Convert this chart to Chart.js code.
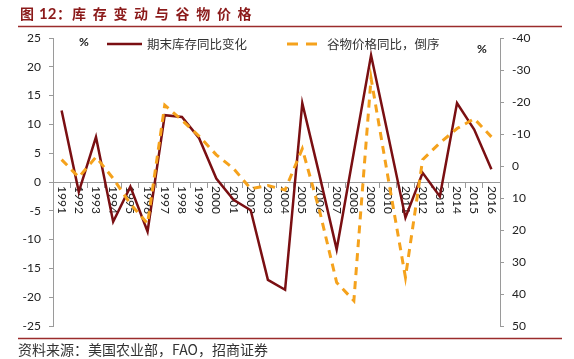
<!DOCTYPE html>
<html>
<head>
<meta charset="utf-8">
<script src="https://cdn.jsdelivr.net/npm/chart.js@4"></script>
<style>
  html, body { margin: 0; padding: 0; background: #fff; }
  canvas { display: block; }
</style>
</head>
<body>
<canvas id="chart" width="574" height="359"></canvas>
<script>
// data
const years = ['1991', '1992', '1993', '1994', '1995', '1996', '1997', '1998', '1999', '2000', '2001', '2002', '2003',
               '2004', '2005', '2006', '2007', '2008', '2009', '2010', '2011', '2012', '2013', '2014', '2015', '2016'];
const stockChange = [12.4, -1.7, 7.8, -6.9, -0.8, -8.6, 11.6, 11.3, 7.6, 0.6, -3.1, -4.9, -17.0,
                     -18.7, 13.7, 1.2, -11.7, 5.2, 22.0, 8.0, -6.2, 1.6, -2.5, 13.7, 9.1, 2.2];
const grainPrice = [-2.0, 3.5, -2.8, 3.9, 11.8, 18.0, -19.0, -14.3, -9.3, -3.5, 0.8, 7.1, 6.1,
                    7.5, -5.4, 13.9, 36.4, 42.1, -27.4, 4.0, 34.8, -2.0, -7.2, -11.7, -14.8, -9.1];
const leftTicks = { min: -25, max: 25, step: 5 };
const rightTicks = { min: -40, max: 50, step: 10 };

const titleText = ['图', ' 12：', '库存变动与谷物价格'];
const legendLabels = ['期末库存同比变化', '谷物价格同比，倒序'];
const sourceText = '资料来源：美国农业部，FAO，招商证券';

const RED = '#7a0f12';
const ORANGE = '#f5a21c';
const AXIS = '#9a9a9a';
const NUM_FONT = 'Lato, "Noto Sans", sans-serif';
const CJK_FONT = '"Noto Sans CJK SC", sans-serif';

const decor = {
    id: 'decor',
    beforeDatasetsDraw(chart) {
        const ctx = chart.ctx;
        const x = chart.scales.x;
        const y0 = chart.scales.y.getPixelForValue(0);
        ctx.save();
        ctx.font = '12px ' + NUM_FONT;
        ctx.fillStyle = '#222';
        ctx.textAlign = 'left';
        ctx.textBaseline = 'middle';
        years.forEach(function (lab, i) {
            ctx.save();
            ctx.translate(x.getPixelForValue(i), y0 + 4);
            ctx.rotate(Math.PI / 2);
            ctx.fillText(lab, 0, 0);
            ctx.restore();
        });
        ctx.restore();
    },
    afterDraw(chart) {
        const ctx = chart.ctx;
        ctx.save();

        // title
        ctx.fillStyle = '#8b1a1a';
        ctx.textBaseline = 'middle';
        ctx.textAlign = 'left';
        ctx.font = 'bold 14px ' + CJK_FONT;
        ctx.fillText(titleText[0], 20, 14);
        ctx.font = 'bold 15px ' + NUM_FONT;
        ctx.fillText('12', 39, 14);
        ctx.font = 'bold 14px ' + CJK_FONT;
        ctx.fillText('：', 57, 14);
        const chars = titleText[2].split('');
        chars.forEach(function (c, i) {
            ctx.fillText(c, 72 + i * 20.7, 14);
        });

        // rules under title and above source
        ctx.strokeStyle = '#9b2c2c';
        ctx.lineWidth = 1.5;
        ctx.beginPath();
        ctx.moveTo(18, 26.5); ctx.lineTo(562, 26.5);
        ctx.moveTo(18, 338.5); ctx.lineTo(562, 338.5);
        ctx.stroke();

        // source
        ctx.fillStyle = '#333';
        ctx.font = '14px ' + CJK_FONT;
        ctx.fillText(sourceText, 18, 350);

        // unit labels
        ctx.fillStyle = '#222';
        ctx.font = 'bold 12px ' + NUM_FONT;
        ctx.fillText('%', 79, 42);
        ctx.fillText('%', 477, 49);

        // legend
        ctx.lineWidth = 2.5;
        ctx.strokeStyle = RED;
        ctx.beginPath();
        ctx.moveTo(107, 44); ctx.lineTo(142, 44);
        ctx.stroke();
        ctx.strokeStyle = ORANGE;
        ctx.lineWidth = 3;
        ctx.setLineDash([11, 8]);
        ctx.beginPath();
        ctx.moveTo(287, 44); ctx.lineTo(317, 44);
        ctx.stroke();
        ctx.setLineDash([]);
        ctx.fillStyle = '#333';
        ctx.font = '12.5px ' + CJK_FONT;
        ctx.fillText(legendLabels[0], 147, 44);
        ctx.fillText(legendLabels[1], 327, 44);

        ctx.restore();
    }
};

const axisGrid = {
    drawOnChartArea: false,
    drawTicks: true,
    tickLength: 4,
    color: AXIS
};

new Chart(document.getElementById('chart'), {
    type: 'line',
    data: {
        labels: years,
        datasets: [{
            label: legendLabels[0],
            data: stockChange,
            borderColor: RED,
            backgroundColor: RED,
            borderWidth: 2.5,
            pointRadius: 0,
            tension: 0,
            yAxisID: 'y',
            order: 1
        }, {
            label: legendLabels[1],
            data: grainPrice,
            borderColor: ORANGE,
            backgroundColor: ORANGE,
            borderWidth: 3,
            borderDash: [8, 6],
            pointRadius: 0,
            tension: 0,
            yAxisID: 'y1',
            order: 0
        }]
    },
    options: {
        responsive: false,
        animation: false,
        devicePixelRatio: 1,
        layout: { padding: { top: 38, bottom: 33, left: 0, right: 0 } },
        plugins: {
            legend: { display: false },
            tooltip: { enabled: false }
        },
        scales: {
            x: {
                position: { y: 0 },
                offset: true,
                grid: { offset: true, drawOnChartArea: false, drawTicks: true, tickLength: 5, color: AXIS },
                border: { color: AXIS },
                ticks: { display: false }
            },
            y: {
                position: 'left',
                min: leftTicks.min,
                max: leftTicks.max,
                ticks: { stepSize: leftTicks.step, color: '#222', font: { family: NUM_FONT, size: 12 }, padding: 8 },
                grid: axisGrid,
                border: { color: AXIS },
                afterFit: function (s) { s.width = 53; }
            },
            y1: {
                position: 'right',
                reverse: true,
                min: rightTicks.min,
                max: rightTicks.max,
                ticks: { stepSize: rightTicks.step, color: '#222', font: { family: NUM_FONT, size: 12 }, padding: 8 },
                grid: axisGrid,
                border: { color: AXIS },
                afterFit: function (s) { s.width = 74; }
            }
        }
    },
    plugins: [decor]
});
</script>
</body>
</html>
